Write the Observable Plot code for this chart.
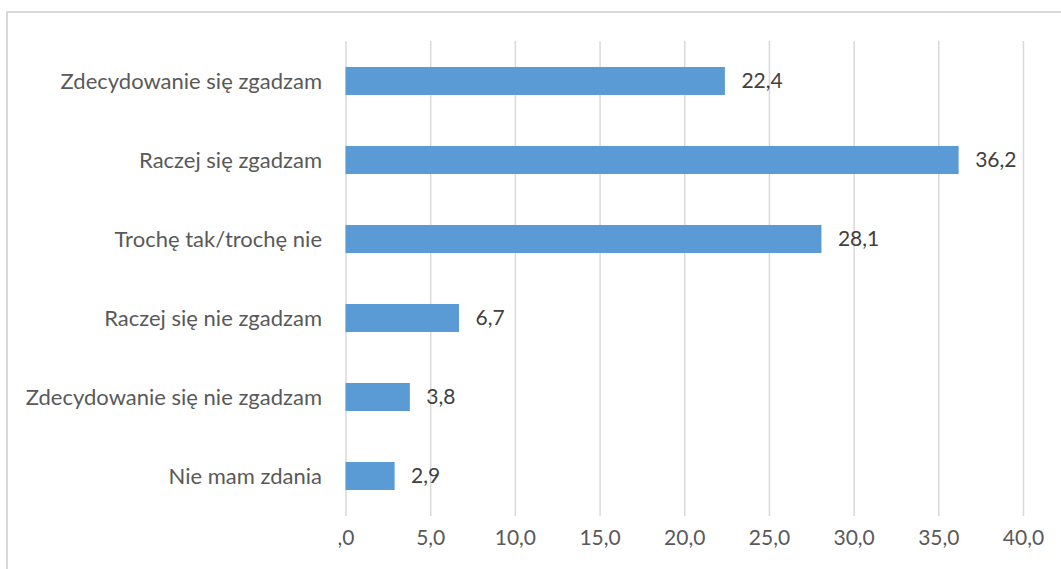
<!DOCTYPE html>
<html>
<head>
<meta charset="utf-8">
<script src="https://cdn.jsdelivr.net/npm/d3@7"></script>
<script src="https://cdn.jsdelivr.net/npm/@observablehq/plot@0.6"></script>
<style>
  html, body { margin: 0; padding: 0; background: #fff; overflow: hidden; }
  #frame { position: absolute; left: 6px; top: 11px; width: 1200px; height: 700px;
           border-left: 2px solid #d9d9d9; border-top: 2px solid #d9d9d9; box-sizing: border-box; }
  #chart { position: absolute; left: 0; top: 0; }
</style>
</head>
<body>
<div id="frame"></div>
<div id="chart"></div>
<script>
const categories = [
  "Zdecydowanie się zgadzam",
  "Raczej się zgadzam",
  "Trochę tak/trochę nie",
  "Raczej się nie zgadzam",
  "Zdecydowanie się nie zgadzam",
  "Nie mam zdania"
];
const values = [22.4, 36.2, 28.1, 6.7, 3.8, 2.9];
const xTicks = [0, 5, 10, 15, 20, 25, 30, 35, 40];
const xTickLabels = [",0", "5,0", "10,0", "15,0", "20,0", "25,0", "30,0", "35,0", "40,0"];

const data = categories.map((c, i) => ({category: c, value: values[i]}));
const fmt = v => v.toFixed(1).replace(".", ",");

const plot = Plot.plot({
  width: 1061,
  height: 569,
  marginLeft: 345.5,
  marginRight: 38,
  marginTop: 41,
  marginBottom: 53,
  style: {fontFamily: "Lato, sans-serif", fontSize: "21px", color: "#595959", background: "transparent"},
  x: {domain: [0, 40], ticks: xTicks, tickFormat: (d) => xTickLabels[xTicks.indexOf(d)], label: null},
  y: {domain: categories, paddingInner: 0.65, paddingOuter: 0.325, label: null},
  marks: [
    Plot.gridX(xTicks, {stroke: "#d9d9d9", strokeWidth: 1.5, strokeOpacity: 1}),
    Plot.barX(data, {x: "value", y: "category", fill: "#5b9bd5"}),
    Plot.text(data, {x: "value", y: "category", text: d => fmt(d.value), textAnchor: "start", dx: 16, fill: "#404040", fontSize: 21}),
    Plot.axisX(xTicks, {tickSize: 0, tickPadding: 14, tickFormat: (d) => xTickLabels[xTicks.indexOf(d)], fill: "#595959", fontSize: 21, label: null}),
    Plot.axisY({tickSize: 0, tickPadding: 24, fill: "#595959", fontSize: 22, label: null})
  ]
});
document.getElementById("chart").appendChild(plot);
</script>
</body>
</html>
